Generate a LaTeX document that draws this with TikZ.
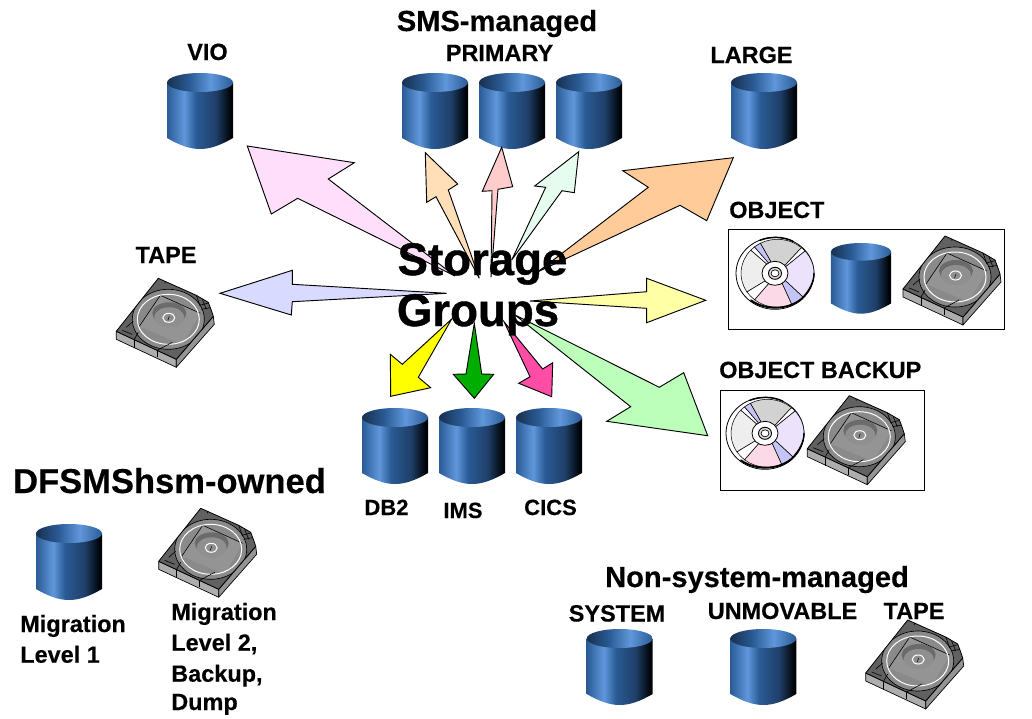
\documentclass[tikz,border=0pt]{standalone}
\usepackage{fontspec}
\setmainfont[BoldFeatures={FakeBold=0.35}]{Liberation Sans}
\newfontfamily\heavyfont[BoldFeatures={FakeBold=0.9}]{Liberation Sans}
\definecolor{cA}{HTML}{2A5B95}
\definecolor{cB}{HTML}{6097DB}
\definecolor{cC}{HTML}{1F3F68}
\definecolor{cD}{HTML}{000408}
\definecolor{cE}{HTML}{18304F}
\pgfdeclarehorizontalshading{cylbody}{100bp}{color(0bp)=(cA);color(25bp)=(cA);color(38bp)=(cB);color(47bp)=(cA);color(62bp)=(cC);color(73bp)=(cD);color(75bp)=(cD);color(100bp)=(cD)}
\pgfdeclarehorizontalshading{cyltop}{100bp}{color(0bp)=(cE);color(25bp)=(cE);color(42bp)=(cA);color(58bp)=(cB);color(75bp)=(cA);color(100bp)=(cA)}
\tikzset{
  x=0.75pt,y=-0.75pt,
  lab/.style={font=\bfseries\fontsize{17.6pt}{20pt}\selectfont,inner sep=0,anchor=base},
  labl/.style={lab,anchor=base west},
  labs/.style={lab,font=\bfseries\fontsize{16.5pt}{20pt}\selectfont},
  head/.style={lab,font=\bfseries\fontsize{21.8pt}{24pt}\selectfont},
  title/.style={lab,font=\bfseries\fontsize{25.9pt}{30pt}\selectfont},
  big/.style={lab,font=\heavyfont\bfseries\fontsize{34.2pt}{36pt}\selectfont},
  blockarrow/.style={draw=black,line width=0.7pt,line join=miter,fill=#1},
  frame/.style={draw=black,line width=0.75pt,fill=white},
  pics/cyl/.style={code={
    \shade[shading=cylbody] (-33,9.5) -- (-33,65) .. controls (-20,72.5) and (-10,76) .. (0,76) .. controls (10,76) and (20,72.5) .. (33,65) -- (33,9.5) -- cycle;
    \shade[shading=cyltop] (0,9.5) ellipse [x radius=33,y radius=9.5];
  }},
  pics/cart/.style={code={
    \filldraw[fill=black!32,draw=black,line width=0.5pt,line join=round] (-42,53) -- (-42,61) -- (18,89) -- (18,81) -- cycle;
    \filldraw[fill=black!42,draw=black,line width=0.5pt,line join=round] (18,81) -- (18,89) -- (56,46) -- (55,38) -- cycle;
    \draw[black,line width=0.45pt] (-24,61) -- (-24,70) (-1,72) -- (-1,79);
    \begin{scope}
      \path[clip] (0,0) -- (38,17) -- (50,24) -- (53,32) -- (55,38) -- (18,81) -- (-42,53) -- cycle;
      \fill[black!62] (-50,-5) rectangle (60,90);
      \filldraw[fill=black!46,draw=black,line width=0.5pt] (10,41) ellipse [x radius=36,y radius=30];
      \fill[black!42] (2,17) -- (42,35) -- (24,66) -- (-19,48) -- cycle;
      \draw[black,line width=0.45pt] (2,17) -- (42,35) (2,17) -- (-19,48);
      \fill[black!58] (11,35) ellipse [x radius=17,y radius=11];
      \fill[black!44] (11,39) ellipse [x radius=15,y radius=10];
      \draw[white,line width=0.75pt] (10,41) ellipse [x radius=31,y radius=25];
      \draw[white,line width=0.75pt] (10.5,39.5) ellipse [x radius=6,y radius=4.5];
      \draw[black,line width=0.4pt] (9.5,42) -- (11,38);
      \draw[black,line width=0.45pt] (7,5) arc [start angle=150,end angle=400,x radius=4,y radius=3];
      \draw[black,line width=0.45pt] (38,17) -- (42,28) (44,21) -- (48,31) (41,27) -- (53,24) (43,31) -- (54,29);
      \draw[black,line width=0.45pt] (-32,49) -- (-25,43) (-36,52) -- (-26,56);
      \draw[black,line width=0.45pt] (-1,72) -- (14,64) (-24,61) -- (-20,54);
    \end{scope}
    \draw[black,line width=0.6pt,line join=round] (0,0) -- (38,17) -- (50,24) -- (53,32) -- (55,38) -- (18,81) -- (-42,53) -- cycle;
  }},
  pics/cdrom/.style={code={
    \filldraw[fill=white,draw=black,line width=0.6pt] (0,0) ellipse [x radius=39,y radius=36];
    \foreach \a/\b/\c in {-118/-49/CDgrey,-49/-41/white,-41/45/CDlilac,45/67/CDblue,67/129/CDpink,129/147/white,147/223/CDleft,223/231/white,231/242/CDblue}{
      \filldraw[fill=\c,draw=black,line width=0.4pt] (2.5,0) -- ++(\a:36.5 and 34) arc [start angle=\a,end angle=\b,x radius=36.5,y radius=34] -- cycle;
    }
    \draw[black,line width=1.4pt,line cap=round] (-24,27) .. controls (-10,37) and (12,37) .. (26,26);
    \draw[black,line width=1.1pt,line cap=round] (26,26) .. controls (35,17) and (39,8) .. (39,0);
    \draw[black,line width=1.1pt,line cap=round] (-15,-33) .. controls (-5,-37) and (8,-37) .. (18,-32);
    \filldraw[fill=white,draw=black,line width=0.6pt] (0,0) ellipse [x radius=13,y radius=12];
    \filldraw[fill=gray!25,draw=black,line width=0.7pt] (0,0) ellipse [x radius=6.5,y radius=6];
    \filldraw[fill=white,draw=black,line width=0.5pt] (0,0) ellipse [x radius=4,y radius=3.5];
  }},
}
\definecolor{CDgrey}{HTML}{D2D2D2}
\definecolor{CDlilac}{HTML}{ECE2FB}
\definecolor{CDblue}{HTML}{C4C4F6}
\definecolor{CDpink}{HTML}{FBD9E6}
\definecolor{CDleft}{HTML}{EEEEEE}
\definecolor{aVio}{HTML}{FFDEFC}
\definecolor{aPeach}{HTML}{FFDFB8}
\definecolor{aPink}{HTML}{FFCCCC}
\definecolor{aMint}{HTML}{E6FCEE}
\definecolor{aLarge}{HTML}{FFCC99}
\definecolor{aTape}{HTML}{D9DAFF}
\definecolor{aObj}{HTML}{FFFFA6}
\definecolor{aBack}{HTML}{BBFFBB}
\definecolor{aYel}{HTML}{FFFF00}
\definecolor{aGrn}{HTML}{00AE00}
\definecolor{aMag}{HTML}{FF4DA6}
\begin{document}
\begin{tikzpicture}
\useasboundingbox (0,0) rectangle (1032,718);
\fill[white] (0,0) rectangle (1032,718);
% frames
\path[frame] (728.3,229.3) rectangle (1004.7,329.3);
\path[frame] (720,390.3) rectangle (924.3,490);
% cylinders
\pic (vio) at (200,73) {cyl};
\pic (primA) at (435,73) {cyl};
\pic (primB) at (512,73) {cyl};
\pic (primC) at (589,73) {cyl};
\pic (large) at (764,73) {cyl};
\pic[xscale=0.91,yscale=0.93] (obj) at (861,243) {cyl};
\pic (dbtwo) at (395,408) {cyl};
\pic (ims) at (472,408) {cyl};
\pic (cics) at (549,408) {cyl};
\pic (mlone) at (69,524) {cyl};
\pic (sys) at (619.7,629) {cyl};
\pic (unm) at (763.3,629) {cyl};
% cartridges
\pic (tapeA) at (158.3,278.3) {cart};
\pic (tapeB) at (945,236) {cart};
\pic (tapeC) at (849.3,395.7) {cart};
\pic (tapeD) at (200.7,508.3) {cart};
\pic (tapeE) at (907.7,620) {cart};
% discs
\pic (cdA) at (775,273.3) {cdrom};
\pic (cdB) at (765,433.3) {cdrom};
% arrows
\draw[blockarrow=aVio] (455,276) -- (328.3,179) -- (354.3,162.7) -- (247.3,146) -- (271.3,214) -- (297.7,198.3) -- cycle;
\draw[blockarrow=aPeach] (479.3,278.3) -- (448.3,190) -- (457.7,184) -- (425.3,152.7) -- (426.7,202.3) -- (436,196.7) -- cycle;
\draw[blockarrow=aPink] (491,277.3) -- (498,189.3) -- (512.7,186.7) -- (501.7,147.3) -- (482.3,191.3) -- (492,190.7) -- cycle;
\draw[blockarrow=aMint] (511.7,260) -- (562,190.7) -- (574.3,192.7) -- (578.7,151.7) -- (534.7,186) -- (545.7,187.3) -- cycle;
\draw[blockarrow=aLarge] (538,271.7) -- (680,205.3) -- (706.7,220.7) -- (733.3,157.7) -- (622.7,170.7) -- (648.3,187.3) -- cycle;
\draw[blockarrow=aTape] (446.7,293.3) -- (292.3,284.3) -- (292.3,270.3) -- (220,293.3) -- (291.3,315) -- (292.3,301.7) -- cycle;
\draw[blockarrow=aObj] (530,301) -- (646.7,291.7) -- (646.7,278.3) -- (705.7,300.3) -- (646.7,322.7) -- (646.7,308.3) -- cycle;
\draw[blockarrow=aBack] (515,315) -- (659.3,387.3) -- (683.7,372.7) -- (707.7,435.7) -- (606.7,421.3) -- (630.7,406.7) -- cycle;
\draw[blockarrow=aYel] (451.7,319) -- (418.3,377.3) -- (430.7,387.7) -- (390.7,396.3) -- (390.3,354.3) -- (402.3,364.3) -- cycle;
\draw[blockarrow=aGrn] (474.3,323.3) -- (481.7,374) -- (493.7,374.3) -- (474.3,398.3) -- (453.3,374.3) -- (466,374) -- cycle;
\draw[blockarrow=aMag] (504,321.7) -- (542.7,369) -- (552.7,362.7) -- (551.7,396.7) -- (518.7,383.3) -- (530,376.7) -- cycle;
% labels
\node[head] (tSms) at (497,31) {SMS-managed};
\node[lab] (tPrim) at (499.5,61) {PRIMARY};
\node[lab] (tVio) at (207.5,60) {VIO};
\node[lab] (tLarge) at (751.5,63) {LARGE};
\node[labl] (tObj) at (729,218) {OBJECT};
\node[lab] (tTape) at (166,263) {TAPE};
\node[labl] (tBack) at (719,378) {OBJECT BACKUP};
\node[big] (tSto) at (482.5,275) {Storage};
\node[big] (tGrp) at (478,326) {Groups};
\node[labs] (tDb) at (386.5,515) {DB2};
\node[labs] (tIms) at (463,518) {IMS};
\node[labs] (tCics) at (550.5,515) {CICS};
\node[title] (tHsm) at (169.5,493) {DFSMShsm-owned};
\node[labl] (tMa) at (20,632) {Migration};
\node[labl] (tMb) at (20,662.7) {Level 1};
\node[labl] (tNa) at (171,620) {Migration};
\node[labl] (tNb) at (171,650.7) {Level 2,};
\node[labl] (tNc) at (171,681.7) {Backup,};
\node[labl] (tNd) at (171,710) {Dump};
\node[head] (tNon) at (757,587) {Non-system-managed};
\node[lab] (tSys) at (617,621.5) {SYSTEM};
\node[lab] (tUnm) at (782.5,619) {UNMOVABLE};
\node[lab] (tTap) at (914,619) {TAPE};
\end{tikzpicture}
\end{document}
